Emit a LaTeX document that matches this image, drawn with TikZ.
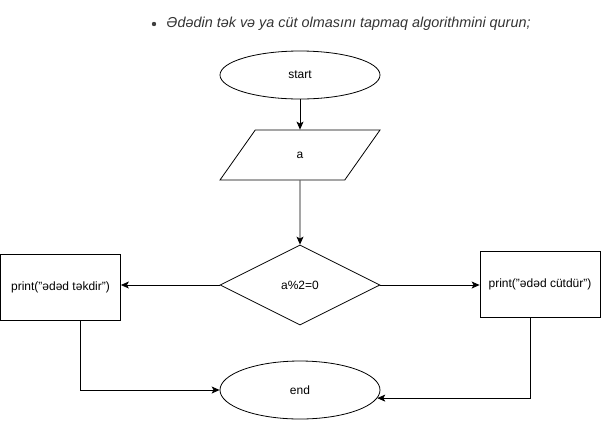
\documentclass[tikz,border=0pt]{standalone}
\usepackage{fontspec}
\setmainfont{Liberation Sans}
\usetikzlibrary{shapes.geometric,arrows.meta}
\begin{document}
\begin{tikzpicture}[
  x=1pt, y=-1pt,
  every node/.style={font=\fontsize{12}{14}\selectfont, draw, align=center, inner sep=0pt},
  term/.style={ellipse, minimum width=160pt, minimum height=48pt},
  io/.style={trapezium, trapezium left angle=68.2, trapezium right angle=111.8,
    trapezium stretches=true, minimum width=160pt, minimum height=50pt},
  cond/.style={diamond, minimum width=160pt, minimum height=80pt},
  box/.style={rectangle, minimum width=120pt, minimum height=66pt},
  title/.style={draw=none, font=\fontsize{14.4}{16}\selectfont\itshape, text=black!80},
  -, >={Stealth[length=8pt,width=7pt,inset=2pt]}, thick
]
\useasboundingbox (0,0) rectangle (601,421);

\node[title, anchor=west] (head) at (166,24) {Ədədin tək və ya cüt olmasını tapmaq algorithmini qurun;};
\fill[black!75] (154,24) circle (2.2pt);

\node[term] (start) at (300,75) {start};
\node[io] (input) at (300,155) {a};
\node[cond] (check) at (300,285) {a\%2=0};
\node[box] (odd) at (60.5,287.5) {print("ədəd təkdir")};
\node[box] (even) at (540,284.5) {print("ədəd cütdür")};
\node[term, minimum height=58pt] (stop) at (300,390) {end};

\draw[->] (start) -- (input);
\draw[->] (input) -- (check);
\draw[->] (check.west) -- (check.west -| odd.east);
\draw[->] (check.east) -- (check.east -| even.west);
\draw[->] ([xshift=20pt]odd.south) |- (stop.west);
\draw[->] ([xshift=-10pt]even.south) |- (stop.-6);
\end{tikzpicture}
\end{document}
